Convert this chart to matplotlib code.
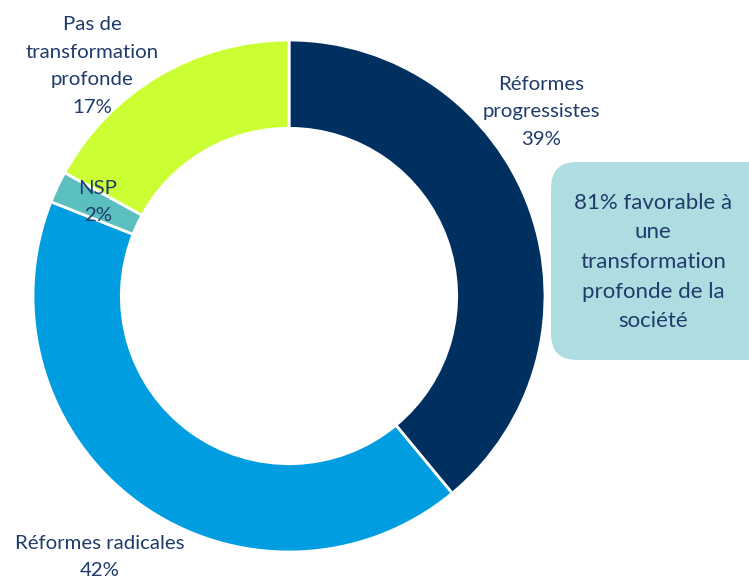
import matplotlib
matplotlib.use("Agg")
import matplotlib.pyplot as plt
from matplotlib.patches import FancyBboxPatch

categories = ["Réformes progressistes", "Réformes radicales", "NSP", "Pas de transformation\nprofonde"]
values = [39, 42, 2, 17]
colors = ["#00305F", "#009EE0", "#5BBFC0", "#CCFF33"]
label_texts = ["Réformes\nprogressistes\n39%", "Réformes radicales\n42%", "NSP\n2%", "Pas de\ntransformation\nprofonde\n17%"]
label_pos = [(541, 112), (100, 557), (98, 202), (92, 66)]
box_text = "81% favorable à\nune\ntransformation\nprofonde de la\nsociété"

W, H = 749, 580
fig = plt.figure(figsize=(W / 100, H / 100), dpi=100)
ax = fig.add_axes([0, 0, 1, 1])
txt_color = "#1F3B6B"
font = ["Lato", "DejaVu Sans"]

cx, cy, R = 289, H - 296, 256
ax.pie(values, colors=colors, startangle=90, counterclock=False,
       center=(cx, cy), radius=R,
       wedgeprops=dict(width=R * 0.345, edgecolor="white", linewidth=2))

for t, (x, y) in zip(label_texts, label_pos):
    ax.text(x, H - y, t, ha="center", va="center", color=txt_color,
            fontsize=14.7, family=font, linespacing=1.76)

box = FancyBboxPatch((551, H - 360), 230, 198,
                     boxstyle="round,pad=0,rounding_size=26",
                     facecolor="#ADDDE0", edgecolor="none")
ax.add_patch(box)
ax.text(653, H - 262, box_text, ha="center", va="center", color=txt_color,
        fontsize=16, family=font, linespacing=1.6)

ax.set_xlim(0, W)
ax.set_ylim(0, H)
ax.set_aspect("auto")
ax.axis("off")
fig.savefig("out.png", dpi=100)
